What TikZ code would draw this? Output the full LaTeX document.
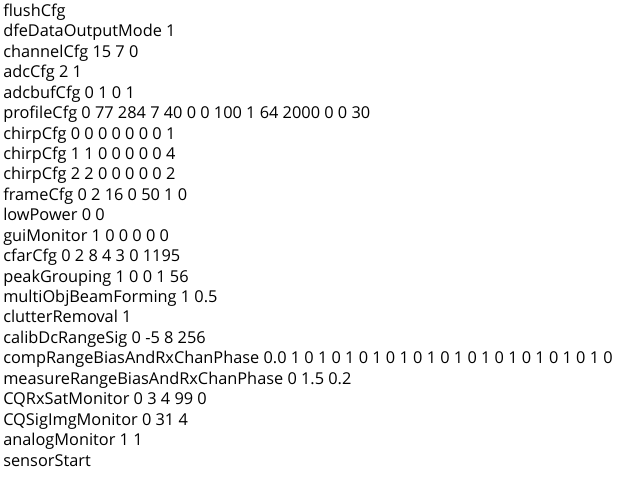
\documentclass[tikz,border=0pt]{standalone}
\usepackage{fontspec}
\usepackage{tikz}
\newfontfamily\cfgfont{Open Sans}

\begin{document}
\begin{tikzpicture}[x=0.75pt,y=0.75pt,yscale=-1,xscale=1,
  cfgline/.style={anchor=base west,inner sep=0.75pt,font={\cfgfont\fontsize{12.25}{14}\selectfont}}]
\useasboundingbox (0,0) rectangle (633,479);

% Text Node
\draw (2,16.5) node (flush) [cfgline] {flushCfg};
% Text Node
\draw (2,36.9) node (dfemode) [cfgline] {dfeDataOutputMode 1};
% Text Node
\draw (2,57.4) node (channel) [cfgline] {channelCfg 15 7 0};
% Text Node
\draw (2,77.8) node (adc) [cfgline] {adcCfg 2 1};
% Text Node
\draw (2,98.2) node (adcbuf) [cfgline] {adcbufCfg 0 1 0 1};
% Text Node
\draw (2,118.7) node (profile) [cfgline] {profileCfg 0 77 284 7 40 0 0 100 1 64 2000 0 0 30};
% Text Node
\draw (2,139.1) node (chirpa) [cfgline] {chirpCfg 0 0 0 0 0 0 0 1};
% Text Node
\draw (2,159.5) node (chirpb) [cfgline] {chirpCfg 1 1 0 0 0 0 0 4};
% Text Node
\draw (2,179.9) node (chirpc) [cfgline] {chirpCfg 2 2 0 0 0 0 0 2};
% Text Node
\draw (2,200.4) node (frame) [cfgline] {frameCfg 0 2 16 0 50 1 0};
% Text Node
\draw (2,220.8) node (lowpow) [cfgline] {lowPower 0 0};
% Text Node
\draw (2,241.2) node (guimon) [cfgline] {guiMonitor 1 0 0 0 0 0};
% Text Node
\draw (2,261.7) node (cfar) [cfgline] {cfarCfg 0 2 8 4 3 0 1195};
% Text Node
\draw (2,282.1) node (peak) [cfgline] {peakGrouping 1 0 0 1 56};
% Text Node
\draw (2,302.5) node (beam) [cfgline] {multiObjBeamForming 1 0.5};
% Text Node
\draw (2,322.9) node (clutter) [cfgline] {clutterRemoval 1};
% Text Node
\draw (2,343.4) node (calibdc) [cfgline] {calibDcRangeSig 0 -5 8 256};
% Text Node
\draw (2,363.8) node (comprange) [cfgline] {compRangeBiasAndRxChanPhase 0.0 1 0 1 0 1 0 1 0 1 0 1 0 1 0 1 0 1 0 1 0 1 0 1 0};
% Text Node
\draw (2,384.2) node (measrange) [cfgline] {measureRangeBiasAndRxChanPhase 0 1.5 0.2};
% Text Node
\draw (2,404.7) node (rxsat) [cfgline] {CQRxSatMonitor 0 3 4 99 0};
% Text Node
\draw (2,425.1) node (sigimg) [cfgline] {CQSigImgMonitor 0 31 4};
% Text Node
\draw (2,445.5) node (analog) [cfgline] {analogMonitor 1 1};
% Text Node
\draw (2,466.0) node (start) [cfgline] {sensorStart};

\end{tikzpicture}
\end{document}
